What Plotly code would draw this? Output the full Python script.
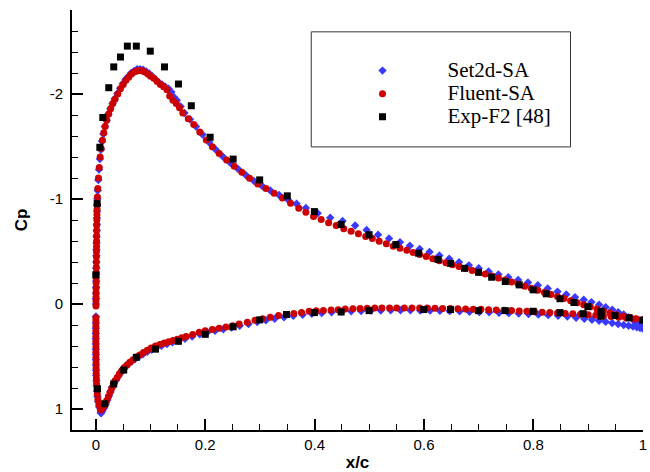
import plotly.graph_objects as go

# ---------------- data (x/c, Cp) ----------------
fluent_upper = [
    (0.0080, 1.00), (0.0055, 0.96), (0.0038, 0.91), (0.0027, 0.86), (0.0019, 0.81),
    (0.0013, 0.76), (0.0009, 0.71), (0.0006, 0.66), (0.0004, 0.61), (0.0003, 0.56),
    (0.0002, 0.51), (0.0001, 0.46), (0.0001, 0.41), (0.0000, 0.36), (0.0000, 0.31),
    (0.0000, 0.26), (0.0000, 0.21), (0.0001, 0.16), (0.0001, 0.13),
    (0.0002, 0.02), (0.0002, -0.03), (0.0003, -0.07), (0.0003, -0.11), (0.0004, -0.15),
    (0.0005, -0.20), (0.0006, -0.25), (0.0007, -0.30), (0.0008, -0.35), (0.0009, -0.40),
    (0.0010, -0.45), (0.0011, -0.50), (0.0012, -0.55), (0.0013, -0.60), (0.0014, -0.65),
    (0.0015, -0.70), (0.0016, -0.75), (0.0018, -0.80), (0.0020, -0.85), (0.0022, -0.90),
    (0.0025, -0.95), (0.0029, -1.02), (0.0035, -1.10), (0.0048, -1.20), (0.0062, -1.30),
    (0.0078, -1.40), (0.0097, -1.48), (0.0120, -1.56), (0.0145, -1.63), (0.0170, -1.69),
    (0.0200, -1.75), (0.0235, -1.81), (0.0270, -1.86), (0.0310, -1.91), (0.0350, -1.95),
    (0.0400, -2.00), (0.0450, -2.05), (0.0500, -2.09), (0.0550, -2.13), (0.0600, -2.16),
    (0.0650, -2.19), (0.0700, -2.21), (0.0750, -2.22), (0.0800, -2.225), (0.0850, -2.22),
    (0.0900, -2.21), (0.0950, -2.19), (0.1000, -2.17), (0.1060, -2.15), (0.1120, -2.12),
    (0.1180, -2.09), (0.1240, -2.07), (0.1300, -2.04), (0.1350, -1.98), (0.1410, -1.94),
    (0.1470, -1.91), (0.1530, -1.87), (0.1590, -1.82), (0.1690, -1.765), (0.1790, -1.71),
    (0.1900, -1.637), (0.2020, -1.563), (0.2130, -1.497), (0.2255, -1.434), (0.2390, -1.371),
    (0.2530, -1.311), (0.2670, -1.255), (0.2810, -1.198), (0.2960, -1.144), (0.3110, -1.100),
    (0.3260, -1.055), (0.3410, -1.010), (0.3560, -0.960), (0.3710, -0.912), (0.3840, -0.874),
    (0.3980, -0.833), (0.4120, -0.805), (0.4255, -0.774), (0.4394, -0.748), (0.4533, -0.717),
    (0.4667, -0.692), (0.4800, -0.670), (0.4933, -0.644), (0.5055, -0.623), (0.5180, -0.597),
    (0.5310, -0.573), (0.5436, -0.550), (0.5560, -0.532), (0.5685, -0.512), (0.5800, -0.490),
    (0.5920, -0.472), (0.6040, -0.452), (0.6160, -0.432), (0.6280, -0.412), (0.6400, -0.393),
    (0.6520, -0.374), (0.6640, -0.356), (0.6760, -0.338), (0.6880, -0.320), (0.7000, -0.302),
    (0.7120, -0.285), (0.7240, -0.266), (0.7360, -0.248), (0.7480, -0.229), (0.7600, -0.210),
    (0.7720, -0.190), (0.7840, -0.170), (0.7960, -0.150), (0.8080, -0.130), (0.8200, -0.110),
    (0.8320, -0.090), (0.8440, -0.072), (0.8560, -0.052), (0.8680, -0.032), (0.8800, -0.013),
    (0.8920, 0.006), (0.9040, 0.026), (0.9160, 0.047), (0.9280, 0.067), (0.9400, 0.086),
    (0.9520, 0.102), (0.9640, 0.116), (0.9760, 0.129), (0.9880, 0.140), (1.0000, 0.150),
]
fluent_lower = [
    (0.0095, 1.01), (0.0130, 0.99), (0.0165, 0.96), (0.0200, 0.92), (0.0230, 0.88),
    (0.0260, 0.84), (0.0290, 0.80), (0.0320, 0.76), (0.0350, 0.73), (0.0390, 0.70),
    (0.0430, 0.665), (0.0470, 0.635), (0.0520, 0.605), (0.0570, 0.58), (0.0620, 0.555),
    (0.0680, 0.532), (0.0740, 0.505), (0.0800, 0.485), (0.0870, 0.462), (0.0940, 0.44),
    (0.1010, 0.42), (0.1090, 0.40), (0.1170, 0.385), (0.1250, 0.372), (0.1330, 0.36),
    (0.1410, 0.347), (0.1490, 0.335), (0.1570, 0.322), (0.1650, 0.310), (0.1770, 0.290),
    (0.1890, 0.270), (0.2000, 0.255), (0.2130, 0.243), (0.2255, 0.232), (0.2380, 0.220),
    (0.2500, 0.208), (0.2620, 0.190), (0.2770, 0.173), (0.2910, 0.155), (0.3050, 0.140),
    (0.3190, 0.126), (0.3340, 0.110), (0.3480, 0.100), (0.3620, 0.090), (0.3760, 0.080),
    (0.3900, 0.070), (0.4030, 0.065), (0.4160, 0.062), (0.4300, 0.057), (0.4430, 0.054),
    (0.4560, 0.048), (0.4700, 0.045), (0.4830, 0.042), (0.4960, 0.040), (0.5100, 0.039),
    (0.5230, 0.038), (0.5370, 0.037), (0.5500, 0.037), (0.5640, 0.037), (0.5780, 0.037),
    (0.5920, 0.038), (0.6060, 0.039), (0.6200, 0.040), (0.6340, 0.042), (0.6480, 0.043),
    (0.6620, 0.045), (0.6760, 0.047), (0.6900, 0.049), (0.7040, 0.051), (0.7180, 0.054),
    (0.7320, 0.057), (0.7460, 0.060), (0.7600, 0.063), (0.7740, 0.066), (0.7880, 0.070),
    (0.8020, 0.074), (0.8160, 0.078), (0.8300, 0.082), (0.8440, 0.086), (0.8580, 0.090),
    (0.8720, 0.094), (0.8860, 0.098), (0.9000, 0.102), (0.9140, 0.108), (0.9280, 0.114),
    (0.9420, 0.120), (0.9560, 0.127), (0.9700, 0.134), (0.9850, 0.142), (1.0000, 0.150),
]
set2d_upper = [
    (0.0090, 1.03), (0.0062, 0.98), (0.0043, 0.93), (0.0030, 0.88), (0.0021, 0.83),
    (0.0015, 0.78), (0.0010, 0.73), (0.0007, 0.68), (0.0005, 0.63), (0.0003, 0.58),
    (0.0002, 0.53), (0.0001, 0.48), (0.0001, 0.43), (0.0000, 0.38), (0.0000, 0.33),
    (0.0000, 0.28), (0.0001, 0.23), (0.0001, 0.18), (0.0002, 0.12),
    (0.0002, 0.00), (0.0003, -0.05), (0.0004, -0.10), (0.0005, -0.16), (0.0006, -0.22),
    (0.0007, -0.28), (0.0008, -0.34), (0.0009, -0.40), (0.0010, -0.46), (0.0011, -0.52),
    (0.0013, -0.58), (0.0014, -0.64), (0.0016, -0.70), (0.0018, -0.76), (0.0020, -0.82),
    (0.0022, -0.88), (0.0025, -0.94), (0.0028, -1.00), (0.0034, -1.08), (0.0045, -1.18),
    (0.0058, -1.28), (0.0074, -1.38), (0.0092, -1.47), (0.0114, -1.55), (0.0138, -1.62),
    (0.0165, -1.69), (0.0195, -1.75), (0.0230, -1.81), (0.0266, -1.86), (0.0305, -1.91),
    (0.0345, -1.955), (0.0395, -2.005), (0.0445, -2.055), (0.0495, -2.10), (0.0545, -2.14),
    (0.0595, -2.17), (0.0645, -2.20), (0.0700, -2.22), (0.0755, -2.235), (0.0810, -2.235),
    (0.0865, -2.23), (0.0920, -2.215), (0.0975, -2.195), (0.1030, -2.17), (0.1090, -2.14),
    (0.1150, -2.11), (0.1210, -2.09), (0.1270, -2.07), (0.1330, -2.05), (0.1380, -2.02),
    (0.1430, -1.97), (0.1480, -1.94), (0.1550, -1.88), (0.1620, -1.82), (0.1720, -1.76),
    (0.1830, -1.69), (0.1950, -1.615), (0.2070, -1.54), (0.2190, -1.472), (0.2320, -1.405),
    (0.2460, -1.342), (0.2600, -1.285), (0.2740, -1.228), (0.2890, -1.172), (0.3040, -1.124),
    (0.3190, -1.080), (0.3350, -1.038), (0.3510, -0.995), (0.3670, -0.955), (0.3840, -0.915),
    (0.4055, -0.865), (0.4285, -0.822), (0.4510, -0.790), (0.4740, -0.748), (0.4950, -0.705),
    (0.5160, -0.660), (0.5360, -0.625), (0.5560, -0.588), (0.5740, -0.555), (0.5920, -0.525),
    (0.6100, -0.495), (0.6280, -0.462), (0.6460, -0.430), (0.6640, -0.398), (0.6820, -0.368),
    (0.7000, -0.340), (0.7180, -0.310), (0.7360, -0.282), (0.7540, -0.255), (0.7720, -0.228),
    (0.7900, -0.205), (0.8080, -0.178), (0.8260, -0.148), (0.8440, -0.118), (0.8600, -0.090),
    (0.8760, -0.065), (0.8920, -0.040), (0.9060, -0.018), (0.9200, 0.006), (0.9320, 0.030),
    (0.9440, 0.055), (0.9550, 0.078), (0.9650, 0.100), (0.9740, 0.125), (0.9820, 0.150),
    (0.9890, 0.175), (0.9950, 0.200), (1.0000, 0.228),
]
set2d_lower = [
    (0.0095, 1.04), (0.0120, 1.02), (0.0150, 0.99), (0.0180, 0.955), (0.0210, 0.915),
    (0.0240, 0.875), (0.0270, 0.835), (0.0300, 0.795), (0.0330, 0.76), (0.0370, 0.725),
    (0.0410, 0.69), (0.0450, 0.66), (0.0500, 0.625), (0.0550, 0.595), (0.0600, 0.57),
    (0.0660, 0.545), (0.0720, 0.522), (0.0790, 0.50), (0.0860, 0.478), (0.0940, 0.455),
    (0.1020, 0.435), (0.1110, 0.415), (0.1200, 0.398), (0.1300, 0.382), (0.1400, 0.365),
    (0.1510, 0.348), (0.1630, 0.330), (0.1760, 0.310), (0.1900, 0.288), (0.2040, 0.268),
    (0.2180, 0.254), (0.2330, 0.240), (0.2480, 0.225), (0.2630, 0.208), (0.2790, 0.190),
    (0.2950, 0.172), (0.3110, 0.155), (0.3270, 0.140), (0.3440, 0.126), (0.3610, 0.113),
    (0.3780, 0.102), (0.3950, 0.093), (0.4130, 0.085), (0.4310, 0.079), (0.4490, 0.074),
    (0.4670, 0.070), (0.4850, 0.066), (0.5030, 0.063), (0.5210, 0.061), (0.5390, 0.060),
    (0.5570, 0.060), (0.5750, 0.060), (0.5930, 0.061), (0.6110, 0.063), (0.6290, 0.065),
    (0.6470, 0.067), (0.6650, 0.070), (0.6830, 0.073), (0.7010, 0.076), (0.7190, 0.079),
    (0.7370, 0.083), (0.7550, 0.087), (0.7730, 0.091), (0.7910, 0.096), (0.8090, 0.101),
    (0.8270, 0.106), (0.8450, 0.112), (0.8620, 0.120), (0.8780, 0.130), (0.8930, 0.140),
    (0.9070, 0.150), (0.9200, 0.160), (0.9320, 0.170), (0.9440, 0.180), (0.9550, 0.190),
    (0.9650, 0.200), (0.9740, 0.208), (0.9820, 0.215), (0.9890, 0.222), (0.9950, 0.228),
    (1.0000, 0.234),
]
exp_upper = [
    (0.0000, -0.277), (0.0024, -0.956), (0.0073, -1.493), (0.0127, -1.776), (0.0236, -2.060),
    (0.0327, -2.258), (0.0450, -2.352), (0.0576, -2.456), (0.0740, -2.456), (0.0995, -2.408),
    (0.1255, -2.258), (0.1510, -2.095), (0.1745, -1.888), (0.2090, -1.588), (0.2510, -1.380),
    (0.2995, -1.182), (0.3500, -1.030), (0.3995, -0.880), (0.4485, -0.758), (0.4995, -0.660),
    (0.5485, -0.566), (0.5900, -0.484), (0.6255, -0.425), (0.6485, -0.387), (0.6740, -0.340),
    (0.6995, -0.302), (0.7236, -0.255), (0.7485, -0.214), (0.7740, -0.182), (0.7995, -0.135),
    (0.8236, -0.097), (0.8485, -0.050), (0.8740, -0.014), (0.8995, 0.025), (0.9236, 0.069),
]
exp_lower = [
    (0.0030, 0.808), (0.0164, 0.950), (0.0327, 0.761), (0.0510, 0.629), (0.0740, 0.508),
    (0.1090, 0.430), (0.1510, 0.355), (0.2000, 0.289), (0.2510, 0.217), (0.2995, 0.151),
    (0.3485, 0.100), (0.3995, 0.082), (0.4485, 0.076), (0.4995, 0.063), (0.5995, 0.053),
    (0.6485, 0.053), (0.6995, 0.063), (0.7485, 0.063), (0.7995, 0.069), (0.8485, 0.082),
    (0.8910, 0.092), (0.9236, 0.116), (0.9490, 0.110), (0.9750, 0.132), (0.9994, 0.154),
]

series_names = ["Set2d-SA", "Fluent-SA", "Exp-F2 [48]"]
x_ticks = [0, 0.2, 0.4, 0.6, 0.8, 1]
x_tick_labels = ["0", "0.2", "0.4", "0.6", "0.8", "1"]
x_minor_ticks = [0.05, 0.1, 0.15, 0.25, 0.3, 0.35, 0.45, 0.5, 0.55,
                 0.65, 0.7, 0.75, 0.85, 0.9, 0.95]
y_ticks = [-2, -1, 0, 1]
y_tick_labels = ["-2", "-1", "0", "1"]


def unzip(*parts):
    pts = [p for part in parts for p in part]
    return [p[0] for p in pts], [p[1] for p in pts]


sx, sy = unzip(set2d_upper, set2d_lower)
fx, fy = unzip(fluent_upper, fluent_lower)
ex, ey = unzip(exp_upper, exp_lower)

LEG_SPAN = '<span style="font-size:21px">{}</span>'

fig = go.Figure()
fig.add_trace(go.Scatter(
    x=sx, y=sy, mode="markers", name=LEG_SPAN.format(series_names[0]),
    marker=dict(symbol="diamond", size=6.5, color="#3a3aff", line=dict(width=0)),
))
fig.add_trace(go.Scatter(
    x=fx, y=fy, mode="markers", name=LEG_SPAN.format(series_names[1]),
    marker=dict(symbol="circle", size=7, color="#cc0000", line=dict(width=0)),
))
fig.add_trace(go.Scatter(
    x=ex, y=ey, mode="markers", name=LEG_SPAN.format(series_names[2]),
    marker=dict(symbol="square", size=7, color="#000000", line=dict(width=0)),
))

axis_common = dict(
    showline=True, linecolor="black", linewidth=2, mirror=False,
    showgrid=False, zeroline=False,
    ticks="inside", ticklen=11, tickwidth=2, tickcolor="black",
    tickfont=dict(family="Liberation Sans, Arial, sans-serif", size=15, color="black"),
    ticklabeloverflow="allow",
)

fig.update_layout(
    width=650, height=472,
    margin=dict(l=72, r=3, t=10, b=39),
    paper_bgcolor="white", plot_bgcolor="white",
    showlegend=True,
    legend=dict(
        x=0.43, y=0.895, xanchor="left", yanchor="top",
        bgcolor="rgba(0,0,0,0)", borderwidth=0,
        font=dict(family="Liberation Serif, Times New Roman, serif", size=15.4, color="black"),
        itemwidth=120, itemclick=False,
    ),
    xaxis=dict(
        range=[-0.0436, 1.0003], tickvals=x_ticks, ticktext=x_tick_labels,
        minor=dict(tickvals=x_minor_ticks, ticks="inside", ticklen=6,
                   tickwidth=1, tickcolor="black", showgrid=False),
        title=dict(text="<b>x/c</b>", font=dict(family="Liberation Sans, Arial, sans-serif", size=17, color="black"), standoff=4),
        **axis_common,
    ),
    yaxis=dict(
        range=[1.2, -2.8], tickvals=y_ticks, ticktext=y_tick_labels,
        minor=dict(dtick=0.2, ticks="inside", ticklen=6, tickwidth=1, tickcolor="black", showgrid=False),
        title=dict(text="<b>Cp</b>", font=dict(family="Liberation Sans, Arial, sans-serif", size=17, color="black"), standoff=18),
        ticklabelstandoff=4,
        **axis_common,
    ),
    shapes=[dict(
        type="rect", xref="paper", yref="paper",
        x0=0.419, x1=0.873, y0=0.674, y1=0.948,
        line=dict(color="#333333", width=1), fillcolor="rgba(0,0,0,0)", layer="above",
    )],
)

fig.write_html("out.html")
